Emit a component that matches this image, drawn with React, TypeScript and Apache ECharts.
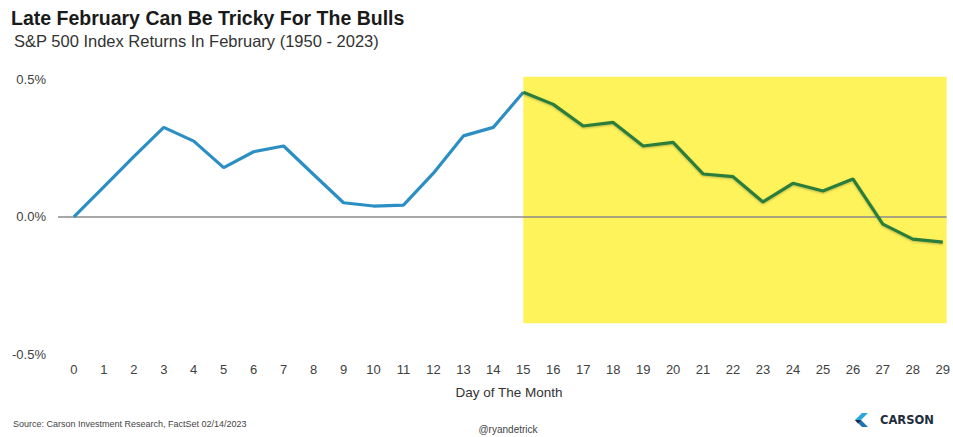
import React, { useEffect, useRef } from "react";
import * as echarts from "echarts";

const days: number[] = [0, 1, 2, 3, 4, 5, 6, 7, 8, 9, 10, 11, 12, 13, 14, 15, 16, 17, 18, 19, 20, 21, 22, 23, 24, 25, 26, 27, 28, 29];
const returnsPct: number[] = [
  0.0, 0.11, 0.22, 0.327, 0.277, 0.18, 0.238, 0.259, 0.155, 0.052,
  0.04, 0.043, 0.16, 0.296, 0.327, 0.455, 0.411, 0.332, 0.345, 0.259,
  0.272, 0.157, 0.147, 0.055, 0.123, 0.095, 0.139, -0.026, -0.081, -0.092,
];
const yTickValues: number[] = [-0.5, 0, 0.5];
const splitDay = 15;
const highlightX: number[] = [15, 29.13];
const highlightY: number[] = [0.512, -0.388];

const FONT = "'Liberation Sans', Arial, sans-serif";

export default function App() {
  const ref = useRef<HTMLDivElement>(null);

  useEffect(() => {
    if (!ref.current) return;
    try {
      echarts.graphic.registerShape(
        "carsonTop",
        echarts.graphic.extendPath("M7 0 L13 0 L6 7 L0 7 Z", {})
      );
      echarts.graphic.registerShape(
        "carsonBottom",
        echarts.graphic.extendPath("M0 7 L6 7 L13 14 L7 14 Z", {})
      );
      echarts.graphic.registerShape(
        "carsonMid",
        echarts.graphic.extendPath("M0 7 L6 7 L3 10.5 Z", {})
      );
    } catch (e) {
      // already registered
    }
    const chart = echarts.init(ref.current, null, { renderer: "svg" });

    const early = days.slice(0, splitDay + 1).map((d, i) => [d, returnsPct[i]]);
    const late = days.slice(splitDay).map((d, i) => [d, returnsPct[i + splitDay]]);

    chart.setOption({
      animation: false,
      backgroundColor: "#ffffff",
      grid: { left: 58, right: 2, top: 74.5, bottom: 83, containLabel: false },
      xAxis: {
        type: "value",
        min: -0.53,
        max: 29.13,
        axisLine: { show: false },
        axisTick: { show: false },
        splitLine: { show: false },
        axisLabel: {
          customValues: days,
          fontSize: 13,
          color: "#404040",
          margin: 8.5,
          fontFamily: FONT,
          formatter: (v: number) => String(v),
        },
      },
      yAxis: {
        type: "value",
        min: -0.5,
        max: 0.52,
        axisLine: { show: false },
        axisTick: { show: false },
        splitLine: { show: false },
        axisLabel: {
          customValues: yTickValues,
          fontSize: 13,
          color: "#404040",
          margin: 12,
          fontFamily: FONT,
          formatter: (v: number) => v.toFixed(1) + "%",
        },
      },
      series: [
        {
          name: "highlight",
          type: "line",
          data: [],
          silent: true,
          markArea: {
            silent: true,
            itemStyle: { color: "#fff35c" },
            data: [
              [
                { xAxis: highlightX[0], yAxis: highlightY[0] },
                { xAxis: highlightX[1], yAxis: highlightY[1] },
              ],
            ],
          },
        },
        {
          name: "zero",
          type: "line",
          data: [],
          silent: true,
          markLine: {
            silent: true,
            symbol: ["none", "none"],
            label: { show: false },
            lineStyle: { color: "#8a8a8a", width: 1.5, type: "solid" },
            data: [{ yAxis: 0 }],
          },
        },
        {
          name: "Days 0-15",
          type: "line",
          z: 6,
          data: early,
          showSymbol: false,
          symbol: "none",
          lineStyle: { color: "#2b8fc4", width: 3.2 },
        },
        {
          name: "Days 15-29",
          type: "line",
          z: 7,
          data: late,
          showSymbol: false,
          symbol: "none",
          lineStyle: {
            color: "#2a7d3b",
            width: 3.2,
            shadowColor: "rgba(0,0,0,0.25)",
            shadowBlur: 2,
            shadowOffsetY: 1,
          },
        },
      ],
      graphic: [
        {
          type: "text",
          x: 11,
          y: 17.5,
          style: {
            text: "Late February Can Be Tricky For The Bulls",
            fontSize: 19.5,
            fontWeight: "bold",
            fontFamily: FONT,
            fill: "#1a1a1a",
            textVerticalAlign: "middle",
          },
        },
        {
          type: "text",
          x: 14,
          y: 41,
          style: {
            text: "S&P 500 Index Returns In February (1950 - 2023)",
            fontSize: 16.5,
            fontFamily: FONT,
            fill: "#333333",
            textVerticalAlign: "middle",
          },
        },
        {
          type: "text",
          x: 509,
          y: 392,
          style: {
            text: "Day of The Month",
            fontSize: 13.5,
            fontFamily: FONT,
            fill: "#333333",
            textAlign: "center",
            textVerticalAlign: "middle",
          },
        },
        {
          type: "text",
          x: 13,
          y: 424,
          style: {
            text: "Source: Carson Investment Research, FactSet 02/14/2023",
            fontSize: 9,
            fontFamily: FONT,
            fill: "#444444",
            textVerticalAlign: "middle",
          },
        },
        {
          type: "text",
          x: 508,
          y: 429,
          style: {
            text: "@ryandetrick",
            fontSize: 10,
            fontFamily: FONT,
            fill: "#444444",
            textAlign: "center",
            textVerticalAlign: "middle",
          },
        },
        {
          type: "carsonTop",
          x: 855,
          y: 413,
          style: { fill: "#2aa7df" },
        },
        {
          type: "carsonBottom",
          x: 855,
          y: 413,
          style: { fill: "#1e73b0" },
        },
        {
          type: "carsonMid",
          x: 855,
          y: 413,
          style: { fill: "#1b2a3c" },
        },
        {
          type: "text",
          x: 880,
          y: 420,
          style: {
            text: "CARSON",
            fontSize: 11.5,
            fontWeight: "bold",
            fontFamily: "'DejaVu Sans', sans-serif",
            fill: "#1f2d3d",
            textVerticalAlign: "middle",
          },
        },
      ],
    });

    return () => chart.dispose();
  }, []);

  return (
    <div
      ref={ref}
      style={{ position: "fixed", left: 0, top: 0, width: 953, height: 437 }}
    />
  );
}
